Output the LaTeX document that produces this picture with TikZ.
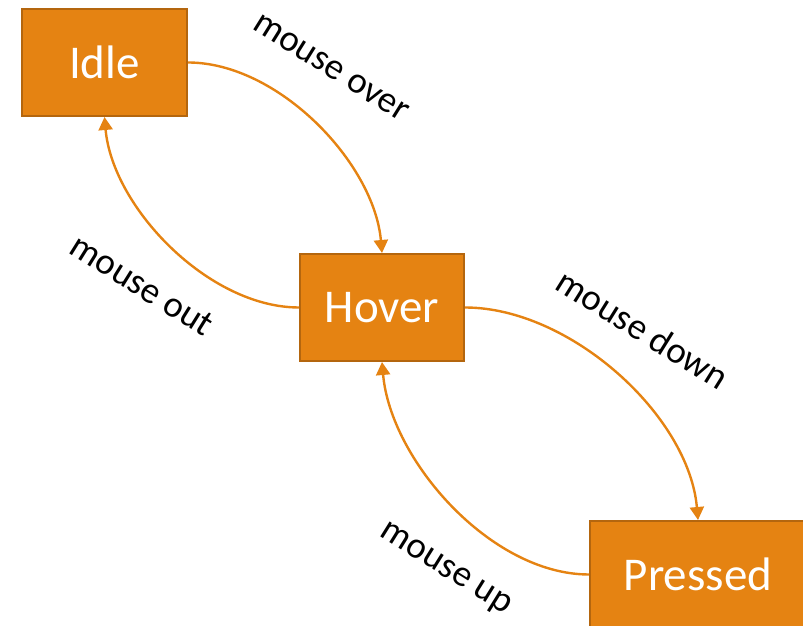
\documentclass[tikz,border=0pt]{standalone}
\usepackage{fontspec}
\setmainfont{Carlito}
\usetikzlibrary{positioning,arrows.meta}
\definecolor{stateorange}{RGB}{229,131,18}
\definecolor{stateedge}{RGB}{180,102,14}

\begin{document}
\begin{tikzpicture}[x=1pt, y=1pt,
    state/.style={draw=stateedge, line width=2pt, fill=stateorange, text=white, minimum height=107pt, inner sep=0pt, font=\fontsize{47}{56}\selectfont},
    trans/.style={draw=stateorange, line width=2.4pt, -{Triangle[length=13pt,width=14pt]}, looseness=0.85},
    event/.style={font=\fontsize{37}{44}\selectfont, rotate=-32}]
    \useasboundingbox (0,0) rectangle (803,626);
    \node (idle) [state, minimum width=165pt] at (104.5,563.5) {Idle};
    \node (hover) [state, minimum width=164pt, below right=136pt and 111pt of idle] {Hover};
    \node (pressed) [state, minimum width=216pt, below right=158pt and 124pt of hover] {Pressed};

    \node (over) [event] at (331,558) {mouse over};
    \node (out) [event] at (142,341) {mouse out};
    \node (down) [event] at (643,297) {mouse down};
    \node (up) [event] at (445,56) {mouse up};

    \draw [trans] (idle.east) to[out=0, in=95] (hover.north);
    \draw [trans] (hover.west) to[out=180, in=-85] (idle.south);
    \draw [trans] (hover.east) to[out=0, in=95] (pressed.north);
    \draw [trans] (pressed.west) to[out=180, in=-85] (hover.south);
\end{tikzpicture}
\end{document}
